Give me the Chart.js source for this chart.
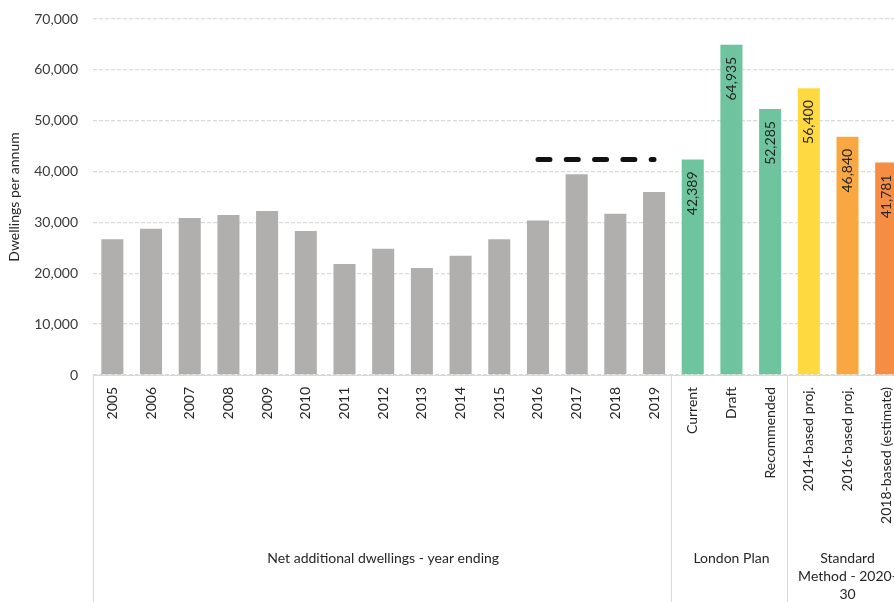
<!DOCTYPE html>
<html>
<head>
<meta charset="utf-8">
<script src="https://cdn.jsdelivr.net/npm/chart.js@4.4.1/dist/chart.umd.min.js"></script>
<style>
  html, body { margin: 0; padding: 0; background: #fff; overflow: hidden; width: 894px; height: 602px; }
  #wrap { position: absolute; left: 0; top: 0; width: 915px; height: 602px; }
</style>
</head>
<body>
<div id="wrap"><canvas id="c"></canvas></div>
<script>
// ---- Data ----
const categories = ['2005','2006','2007','2008','2009','2010','2011','2012','2013','2014','2015','2016','2017','2018','2019',
  'Current','Draft','Recommended','2014-based proj.','2016-based proj.','2018-based (estimate)'];
const netAdditions = [26700, 28750, 30850, 31450, 32250, 28300, 21850, 24800, 21050, 23450, 26700, 30400, 39450, 31700, 36000];
const londonPlan = [42389, 64935, 52285];
const standardMethod = [56400, 46840, 41781];
const currentTargetLine = [null,null,null,null,null,null,null,null,null,null,null,42389,42389,42389,42389,null,null,null,null,null,null];
const groups = [
  { label: ['Net additional dwellings - year ending'], from: 0, to: 14 },
  { label: ['London Plan'], from: 15, to: 17 },
  { label: ['Standard', 'Method - 2020-', '30'], from: 18, to: 20 }
];
const yTicks = [0, 10000, 20000, 30000, 40000, 50000, 60000, 70000];

const barValues = netAdditions.concat(londonPlan, standardMethod);
const barColors = [].concat(
  netAdditions.map(() => '#B0AFAD'),
  londonPlan.map(() => '#6EC49E'),
  ['#FFD940', '#F9A841', '#F58D45']
);
const FONT = 'Lato, "Open Sans", sans-serif';
const fmt = v => v.toLocaleString('en-US');

const extras = {
  id: 'extras',
  afterDraw(chart) {
    const ctx = chart.ctx;
    const x = chart.scales.x;
    const area = chart.chartArea;
    const H = chart.height;
    ctx.save();
    // group separators
    ctx.strokeStyle = '#D9D9D9';
    ctx.lineWidth = 1;
    const seps = [Math.round(area.left) + 0.5];
    groups.slice(1).forEach(g => {
      seps.push(Math.round((x.getPixelForValue(g.from - 1) + x.getPixelForValue(g.from)) / 2) - 1.5);
    });
    seps.forEach(sx => {
      ctx.beginPath(); ctx.moveTo(sx, area.bottom); ctx.lineTo(sx, H); ctx.stroke();
    });
    // group labels
    ctx.fillStyle = '#262626';
    ctx.font = '14px ' + FONT;
    ctx.textAlign = 'center';
    ctx.textBaseline = 'middle';
    groups.forEach(g => {
      const cx = (x.getPixelForValue(g.from) + x.getPixelForValue(g.to)) / 2;
      g.label.forEach((line, i) => ctx.fillText(line, cx, 558 + i * 18));
    });
    // data labels (rotated, inside end) for plan bars
    const meta = chart.getDatasetMeta(0);
    ctx.font = '14px ' + FONT;
    ctx.fillStyle = '#262626';
    for (let i = netAdditions.length; i < barValues.length; i++) {
      const el = meta.data[i];
      ctx.save();
      ctx.translate(el.x, el.y + 12);
      ctx.rotate(-Math.PI / 2);
      ctx.textAlign = 'right';
      ctx.textBaseline = 'middle';
      ctx.fillText(fmt(barValues[i]), 0, 0);
      ctx.restore();
    }
    ctx.restore();
  }
};

new Chart(document.getElementById('c'), {
  data: {
    labels: categories,
    datasets: [
      {
        type: 'bar',
        data: barValues,
        backgroundColor: barColors,
        borderWidth: 0,
        barPercentage: 0.57,
        categoryPercentage: 1.0,
        order: 2
      },
      {
        type: 'line',
        data: currentTargetLine,
        borderColor: '#111111',
        borderWidth: 5,
        borderDash: [12, 16.3],
        borderCapStyle: 'round',
        pointRadius: 0,
        fill: false,
        spanGaps: false,
        order: 1
      }
    ]
  },
  options: {
    responsive: true,
    maintainAspectRatio: false,
    animation: false,
    devicePixelRatio: 1,
    layout: { padding: { top: 19, right: 0, bottom: 0, left: 0 } },
    plugins: { legend: { display: false }, tooltip: { enabled: false } },
    scales: {
      x: {
        afterFit: s => { s.height = 227; },
        grid: { display: false, drawTicks: false },
        border: { display: true, color: '#D9D9D9', width: 1 },
        ticks: {
          autoSkip: false,
          minRotation: 90,
          maxRotation: 90,
          padding: 12,
          color: '#262626',
          font: { family: FONT, size: 14 }
        }
      },
      y: {
        min: 0,
        max: 70000,
        afterFit: s => { s.width = 93; s.paddingTop = 0; s.paddingBottom = 0; },
        afterBuildTicks: s => { s.ticks = yTicks.map(v => ({ value: v })); },
        grid: { color: '#D9D9D9', lineWidth: 1.3, drawTicks: false },
        border: { display: false, dash: [4, 2] },
        ticks: {
          padding: 15,
          color: '#3A3A3A',
          font: { family: FONT, size: 14 },
          callback: v => fmt(v)
        },
        title: {
          display: true,
          text: 'Dwellings per annum',
          color: '#262626',
          font: { family: FONT, size: 14 },
          padding: { top: 6, bottom: 0 }
        }
      }
    }
  },
  plugins: [extras]
});
</script>
</body>
</html>
